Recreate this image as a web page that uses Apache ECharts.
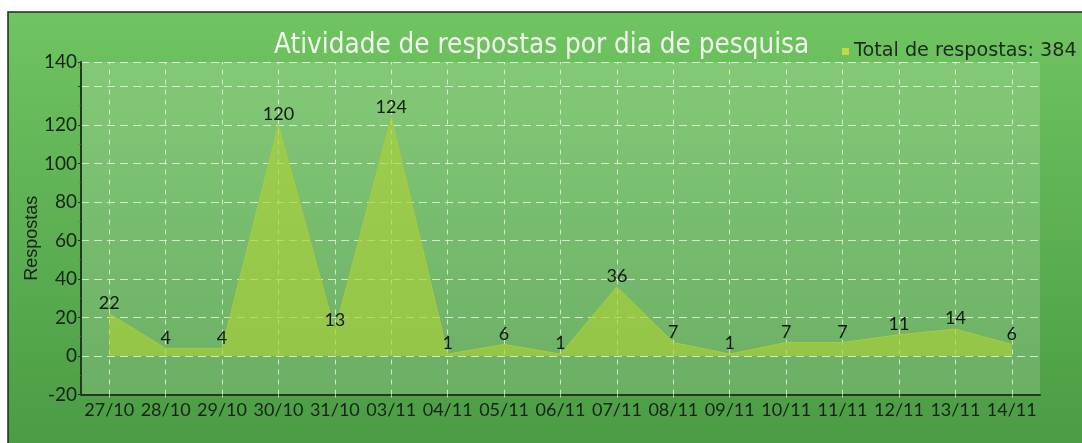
<!DOCTYPE html>
<html><head><meta charset="utf-8">
<script src="https://cdn.jsdelivr.net/npm/echarts@6/dist/echarts.min.js"></script>
<style>html,body{margin:0;padding:0;background:#fff}#c{width:1082px;height:443px}</style>
</head><body><div id="c"></div>
<script>
const categories = ['27/10','28/10','29/10','30/10','31/10','03/11','04/11','05/11','06/11','07/11','08/11','09/11','10/11','11/11','12/11','13/11','14/11'];
const respostas = [22,4,4,120,13,124,1,6,1,36,7,1,7,7,11,14,6];
// axis in the original runs from -20 to about 152; the "140" label sits at the top edge
const yTicks = {min:-20, max:152.7, interval:20, topLabel:'140'};
const titleText = 'Atividade de respostas por dia de pesquisa';
const legendText = 'Total de respostas: 384';

const chart = echarts.init(document.getElementById('c'), null, {renderer:'canvas'});
chart.setOption({
  animation:false,
  backgroundColor:'#ffffff',
  graphic:[
    {type:'rect', z:-10, shape:{x:8,y:12,width:1080,height:440},
     style:{fill:new echarts.graphic.LinearGradient(0,0,0,1,[{offset:0,color:'#70c461'},{offset:1,color:'#4a9b44'}]), stroke:'#1e2a1e', lineWidth:1.5}}
  ],
  title:{text:titleText, left:269, top:27,
    textStyle:{color:'#f2f7ee', fontFamily:'DejaVu Sans Condensed', fontWeight:'normal', fontSize:27.6}},
  legend:{data:[{name:legendText, itemStyle:{color:'#c8d83a', opacity:1}}], left:837, top:37, itemWidth:7, itemHeight:7, itemGap:5, icon:'rect',
    textStyle:{color:'#1b2a1b', fontFamily:'DejaVu Sans', fontSize:19.2}},
  grid:{left:81, right:42, top:62, bottom:48.5, show:true, backgroundColor:'rgba(255,255,255,0.16)', borderWidth:0},
  xAxis:{type:'category', data:categories, boundaryGap:true,
    axisLine:{onZero:false, lineStyle:{color:'#1f3a1f', width:2}},
    axisTick:{show:true, alignWithLabel:true, length:3, lineStyle:{color:'rgba(200,230,200,0.8)'}},
    axisLabel:{color:'#142414', fontFamily:'Lato', fontSize:18, margin:7, interval:0},
    splitLine:{show:false}
  },
  yAxis:{type:'value', min:yTicks.min, max:yTicks.max, interval:yTicks.interval,
    name:'Respostas', nameLocation:'middle', nameGap:40, nameRotate:90, nameMoveOverlap:false,
    nameTextStyle:{color:'#142414', fontFamily:'Liberation Sans', fontSize:18, padding:[0,0,0,-20]},
    axisLine:{show:true, lineStyle:{color:'#1f3a1f', width:2}},
    axisTick:{show:true, length:3, lineStyle:{color:'#1f3a1f'}},
    minorTick:{show:true, splitNumber:2, length:3, lineStyle:{color:'rgba(190,90,60,0.6)'}},
    axisLabel:{color:'#142414', fontFamily:'Lato', fontSize:19, margin:4, showMaxLabel:true,
      formatter:function(v){ if (v === yTicks.max) return yTicks.topLabel; if (v === 140) return ''; return String(v); }},
    splitLine:{show:true, lineStyle:{color:'rgba(240,250,235,0.75)', type:[8,5], width:1}}
  },
  series:[{name:legendText, type:'line', data:respostas, symbol:'circle', symbolSize:1, showSymbol:true,
    lineStyle:{color:'#a9cc3b', width:1},
    itemStyle:{color:'#c8d83a', opacity:0},
    areaStyle:{color:'rgba(172,208,56,0.92)', origin:0},
    label:{show:true, position:'top', distance:1, color:'#111a11', fontFamily:'Lato', fontSize:18, opacity:1},
    labelLayout:{hideOverlap:false},
    markLine:{silent:true, symbol:'none', label:{show:false}, z:1,
      lineStyle:{color:'rgba(240,250,235,0.75)', type:[5,5], width:1},
      data:categories.map(c=>({xAxis:c}))}
  }]
});
</script></body></html>
